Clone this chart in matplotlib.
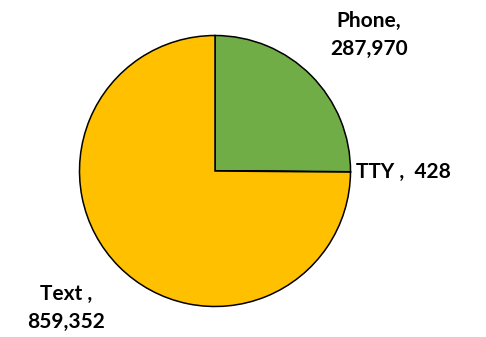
import matplotlib
matplotlib.use("Agg")
import matplotlib.pyplot as plt

# contacts by channel
channels = ["Phone", "TTY", "Text"]
counts = [287970, 428, 859352]
colors = ["#70AD47", "#4472C4", "#FFC000"]

plt.rcParams['font.family'] = ['Lato', 'DejaVu Sans']

fig = plt.figure(figsize=(4.86, 3.37), dpi=100)
cx, cy, r = 215, 171, 135.5
ax = fig.add_axes([(cx - r) / 486, (337 - cy - r) / 337, 2 * r / 486, 2 * r / 337])
ax.pie(counts, colors=colors, startangle=90, counterclock=False, radius=1,
       wedgeprops=dict(edgecolor="black", linewidth=1.1))
ax.set_xlim(-1, 1)
ax.set_ylim(-1, 1)
ax.axis("off")

# label spots (pixel positions converted to data units)
spots = [(369, 35, "center"), (356, 172, "left"), (66, 308, "center")]
labels = [f"{channels[0]},\n{counts[0]:,}",
          f"{channels[1]} ,  {counts[1]:,}",
          f"{channels[2]} ,\n{counts[2]:,}"]
for (px, py, ha), lab in zip(spots, labels):
    ax.text((px - cx) / r, (cy - py) / r, lab, ha=ha, va="center",
            fontsize=15, fontweight="bold", linespacing=1.45, clip_on=False)

fig.savefig("out.png", dpi=100)
